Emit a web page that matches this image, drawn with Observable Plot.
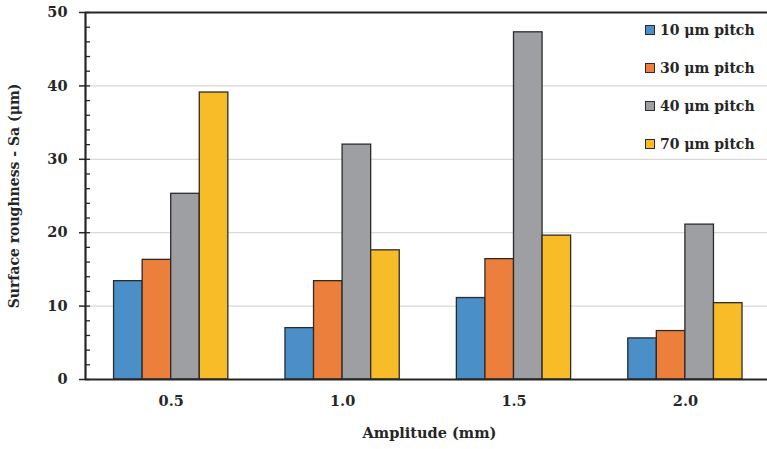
<!DOCTYPE html>
<html><head><meta charset="utf-8">
<script src="https://cdn.jsdelivr.net/npm/d3@7"></script>
<script src="https://cdn.jsdelivr.net/npm/@observablehq/plot@0.6"></script>
<style>
body{margin:0;background:#fff;}
#wrap{position:relative;width:767px;height:449px;font-family:"DejaVu Serif",serif;color:#262626;}
#legend{position:absolute;left:645px;top:0;font-size:14px;font-weight:bold;}
#legend .row{position:absolute;left:0;height:20px;display:flex;align-items:center;white-space:nowrap;}
#legend .sw{width:8px;height:8px;border:1.3px solid #2b2b2b;margin-right:5px;flex:none;}
</style></head><body><div id="wrap"></div>
<script>
const amplitudes = ["0.5", "1.0", "1.5", "2.0"];
const series = ["10 μm pitch", "30 μm pitch", "40 μm pitch", "70 μm pitch"];
const colors = ["#4a8fc8", "#ec7f3c", "#9d9fa2", "#f8bc28"];
const pitch10 = [13.4, 7.0, 11.1, 5.6];
const pitch30 = [16.3, 13.4, 16.4, 6.6];
const pitch40 = [25.3, 32.0, 47.3, 21.1];
const pitch70 = [39.1, 17.6, 19.6, 10.4];
const yMajor = [0, 10, 20, 30, 40, 50];
const yGrid = [10, 20, 30, 40];
const yMinor = [0,2,4,6,8,10,12,14,16,18,20,22,24,26,28,30,32,34,36,38,40,42,44,46,48,50];
const yLabel = "Surface roughness - Sa (μm)";
const xLabel = "Amplitude (mm)";

const values = [pitch10, pitch30, pitch40, pitch70];
const rows = [];
amplitudes.forEach((a, gi) => series.forEach((s, si) => rows.push({amp: a, gi, series: s, si, value: values[si][gi]})));

const ink = "#262626";
const chart = Plot.plot({
  width: 767, height: 449,
  marginLeft: 85, marginRight: 0, marginTop: 12, marginBottom: 70,
  style: {fontFamily: "'DejaVu Serif', serif", fontSize: "14px", fontWeight: "bold", color: ink, background: "#fff"},
  x: {type: "linear", domain: [0, amplitudes.length], range: [85, 770.6]},
  y: {domain: [0, 50]},
  color: {domain: series, range: colors},
  marks: [
    Plot.ruleY(yGrid, {stroke: "#d9d9d9", strokeWidth: 1.2}),
    Plot.rectY(rows, {
      x1: d => d.gi + (1 + d.si) / 6,
      x2: d => d.gi + (2 + d.si) / 6,
      y1: 0, y2: "value", fill: "series",
      stroke: "#2b2b2b", strokeWidth: 1.3
    }),
    Plot.ruleY([50], {stroke: ink, strokeWidth: 1.8}),
    Plot.ruleY([0], {stroke: ink, strokeWidth: 2.2}),
    Plot.ruleX([0], {stroke: ink, strokeWidth: 2.2}),
    Plot.axisY({ticks: yMajor, tickSize: 6, tickPadding: 12, label: null, stroke: ink, strokeWidth: 1.5, fontSize: 14.5}),
    Plot.axisY({ticks: yMinor, tickSize: 5, dx: 5, tickFormat: () => "", label: null, stroke: ink, strokeWidth: 1.3}),
    Plot.axisX({ticks: [0.5, 1.5, 2.5, 3.5], tickFormat: d => amplitudes[Math.floor(d)], tickSize: 0, tickPadding: 16, label: null, fontSize: 14.5}),
    Plot.text([yLabel], {text: d => d, frameAnchor: "left", textAnchor: "middle", lineAnchor: "middle", dx: -71, rotate: -90, fontSize: 14, fontWeight: "bold", fill: ink}),
    Plot.text([xLabel], {text: d => d, frameAnchor: "bottom", textAnchor: "middle", dx: 3, dy: 58, fontSize: 14.5, fontWeight: "bold", fill: ink})
  ]
});
const wrap = document.getElementById("wrap");
wrap.appendChild(chart);
const legend = document.createElement("div");
legend.id = "legend";
const rowTops = [20, 58, 96, 134];
series.forEach((s, i) => {
  const r = document.createElement("div");
  r.className = "row";
  r.style.top = rowTops[i] + "px";
  r.innerHTML = `<span class="sw" style="background:${colors[i]}"></span><span>${s}</span>`;
  legend.appendChild(r);
});
wrap.appendChild(legend);
</script></body></html>
